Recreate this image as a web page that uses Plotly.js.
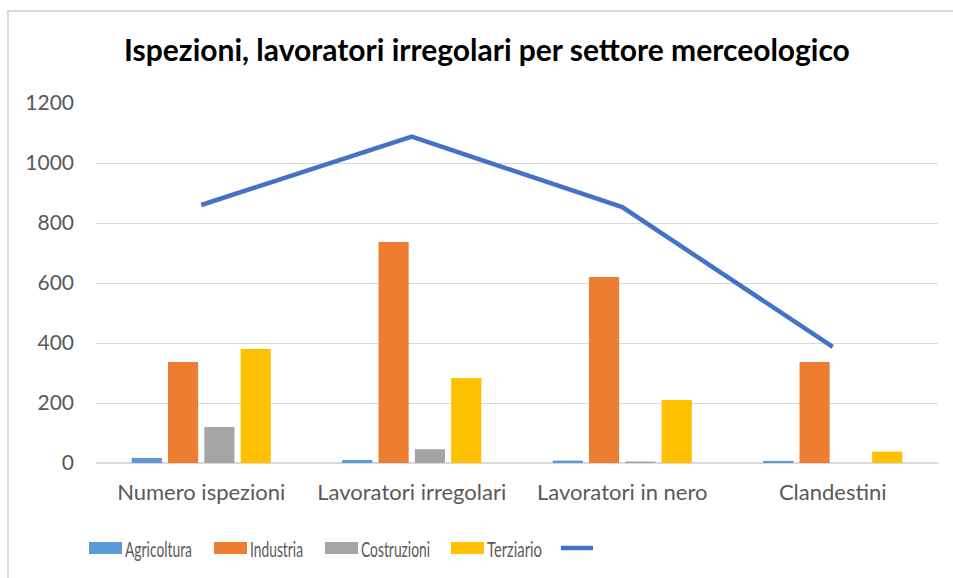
<!DOCTYPE html>
<html>
<head>
<meta charset="utf-8">
<script src="https://cdn.plot.ly/plotly-3.0.1.min.js"></script>
<style>
html,body{margin:0;padding:0;background:#fff;}
#wrap{position:relative;width:953px;height:578px;}
#chart{width:953px;height:578px;}
#frame{position:absolute;left:7px;top:10px;width:960px;height:580px;border-left:2px solid #d9d9d9;border-top:2px solid #d9d9d9;pointer-events:none;}
</style>
</head>
<body>
<div id="wrap"><div id="chart"></div><div id="frame"></div></div>
<script>
var categories = ["Numero ispezioni", "Lavoratori irregolari", "Lavoratori in nero", "Clandestini"];
var agricoltura = [17, 10, 8, 7];
var industria = [337, 737, 620, 337];
var costruzioni = [120, 46, 5, 0];
var terziario = [380, 283, 210, 38];
var totale = [860, 1088, 853, 387];
var yTicks = [0, 200, 400, 600, 800, 1000, 1200];
var seriesNames = ["Agricoltura", "Industria", "Costruzioni", "Terziario"];
var seriesColors = ["#5B9BD5", "#ED7D31", "#A5A5A5", "#FFC000"];
var lineColor = "#4472C4";

var font = "Lato, 'Open Sans', sans-serif";
var seriesVals = [agricoltura, industria, costruzioni, terziario];
var data = [];
seriesVals.forEach(function (vals, i) {
  data.push({type: "bar", name: seriesNames[i], x: categories, y: vals,
    marker: {color: seriesColors[i]}});
});
data.push({type: "scatter", mode: "lines", name: " ", x: categories, y: totale,
  line: {color: lineColor, width: 4.5}});

// layout geometry (pixels) and a custom legend drawn with shapes/annotations
var W = 953, H = 578, M = {l: 96, r: 15, t: 103, b: 115};
var plotW = W - M.l - M.r, plotH = H - M.t - M.b;
function px(x) { return (x - M.l) / plotW; }
function py(y) { return (H - M.b - y) / plotH; }
var legendY = 548;
var swatchX = [89, 214, 325, 451];
var legendTextW = [67, 53, 69, 55];
var shapes = [], annotations = [];
seriesNames.forEach(function (n, i) {
  shapes.push({type: "rect", xref: "paper", yref: "paper",
    x0: px(swatchX[i]), x1: px(swatchX[i] + 33), y0: py(legendY + 6), y1: py(legendY - 6),
    fillcolor: seriesColors[i], line: {width: 0}});
  annotations.push({xref: "paper", yref: "paper", x: px(swatchX[i] + 34), y: py(legendY),
    xanchor: "left", yanchor: "middle", text: n, showarrow: false,
    font: {family: font, size: 21, color: "#595959"}});
});
shapes.push({type: "line", xref: "paper", yref: "paper",
  x0: px(561), x1: px(593), y0: py(legendY), y1: py(legendY),
  line: {color: lineColor, width: 4.5}});

var layout = {
  width: W, height: H,
  margin: M,
  paper_bgcolor: "#fff", plot_bgcolor: "#fff",
  barmode: "group", bargap: 0.31, bargroupgap: 0.17,
  font: {family: font, color: "#595959", size: 18},
  title: {text: "<b>Ispezioni, lavoratori irregolari per settore merceologico</b>",
    font: {family: font, size: 30, color: "#000"},
    xref: "container", x: 0.511, xanchor: "center",
    yref: "container", y: 0.913, yanchor: "middle"},
  xaxis: {type: "category", showgrid: false, showline: false, ticks: "",
    ticklabelstandoff: 14, tickfont: {size: 22, color: "#595959"}},
  yaxis: {range: [0, 1200], tickvals: yTicks, ticktext: yTicks.map(String),
    showgrid: true, gridcolor: "#d9d9d9", gridwidth: 1,
    zeroline: true, zerolinecolor: "#d9d9d9", zerolinewidth: 1.5,
    showline: false, ticks: "", ticklabelstandoff: 21,
    tickfont: {size: 21, color: "#595959"}},
  showlegend: false,
  shapes: shapes,
  annotations: annotations
};
Plotly.newPlot("chart", data, layout, {displayModeBar: false, staticPlot: true}).then(function (gd) {
  // condense legend labels like the original (narrow legend font), keeping them left-aligned
  var texts = gd.querySelectorAll("g.annotation text.annotation-text");
  texts.forEach(function (t, i) {
    var target = legendTextW[i];
    if (!target) return;
    var orig = t.getComputedTextLength();
    var x = parseFloat(t.getAttribute("x")) || 0;
    var anchor = t.getAttribute("text-anchor") || "middle";
    var left = anchor === "middle" ? x - orig / 2 : (anchor === "end" ? x - orig : x);
    t.setAttribute("text-anchor", "start");
    t.setAttribute("x", left);
    t.setAttribute("textLength", target);
    t.setAttribute("lengthAdjust", "spacingAndGlyphs");
  });
});
</script>
</body>
</html>
